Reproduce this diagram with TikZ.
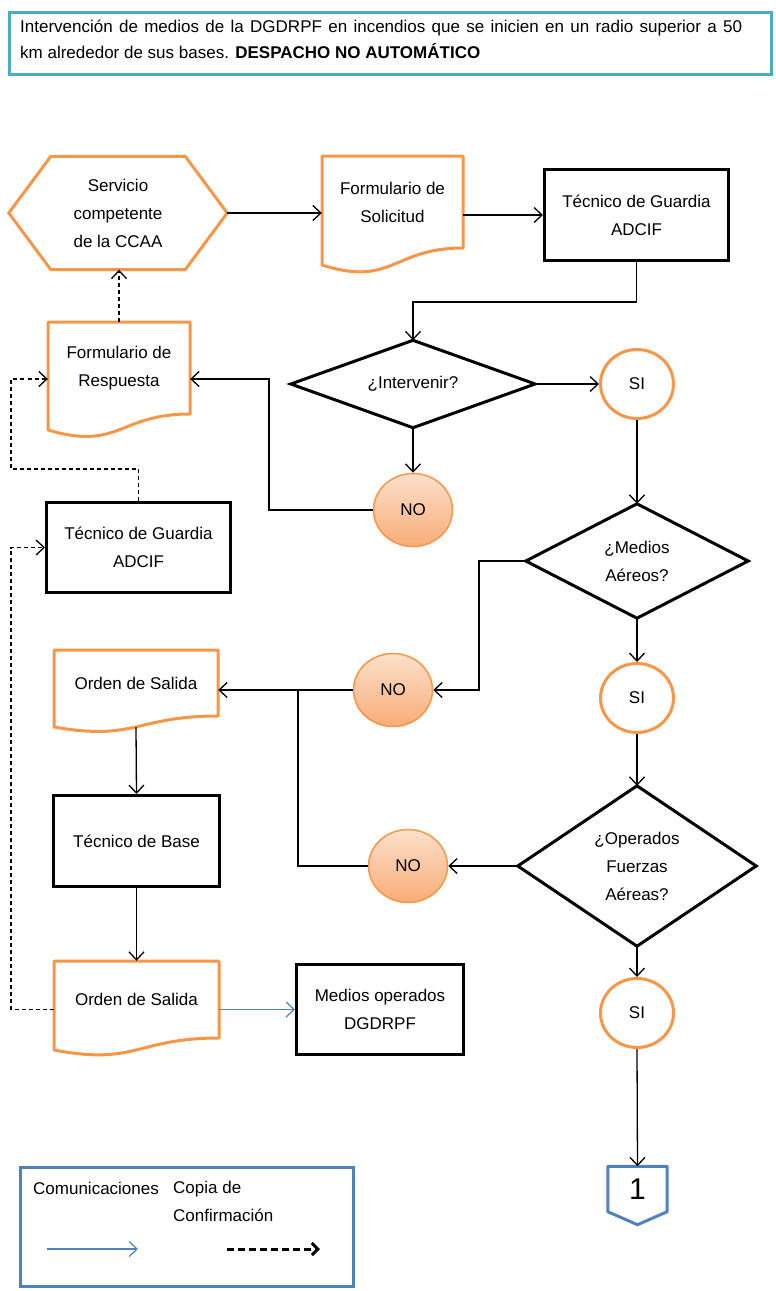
\documentclass[tikz,border=0pt]{standalone}
\usepackage{fontspec}
\setmainfont{Liberation Sans}
\usetikzlibrary{arrows.meta,shapes.geometric,calc}
\definecolor{orng}{HTML}{F79646}
\definecolor{tealc}{HTML}{4BACC6}
\definecolor{bluc}{HTML}{4F81BD}
\definecolor{notop}{RGB}{252,224,203}
\definecolor{nobot}{RGB}{248,172,120}
\newcommand{\docoutline}[5]{%
  \pgfmathsetmacro{\docxm}{(#1+#3)/2}%
  \pgfmathsetmacro{\docyc}{#4+2.31*(#5-#4)}%
  \draw[docline] (#1,#2) -- (#3,#2) -- (#3,#4) .. controls (\docxm,#4) and (\docxm,\docyc) .. (#1,#5) -- cycle;}
\begin{document}
\begin{tikzpicture}[x=1pt,y=-1pt,
  font=\fontsize{17}{28}\selectfont,
  txt/.style={align=center, inner sep=0pt},
  bbox/.style={draw=black, line width=3pt, align=center, inner sep=0pt, line join=miter},
  docline/.style={draw=orng, line width=3pt, line join=round},
  hexline/.style={draw=orng, line width=3pt, line join=miter},
  dialine/.style={draw=black, line width=3pt, line join=miter},
  sicirc/.style={ellipse, draw=orng, line width=3pt, fill=white, minimum width=73pt, minimum height=69pt, inner sep=0pt},
  nocirc/.style={ellipse, draw=orng, line width=1.5pt, top color=notop, bottom color=nobot, minimum width=79pt, minimum height=73pt, inner sep=0pt},
  tip/.style={-{Straight Barb[length=8pt,width=15pt]}},
  conn/.style={line width=1.3pt, tip},
  plain/.style={line width=1.3pt},
  dsh/.style={line width=1.3pt, dash pattern=on 4pt off 3pt},
  blu/.style={draw=bluc, line width=1.2pt, tip}
]
\useasboundingbox (0,0) rectangle (776,1291);

% header
\node[draw=tealc, line width=3pt, anchor=north west, minimum width=762pt, minimum height=62pt, inner sep=0pt] (hdr) at (8,11) {};
\node[anchor=north west, inner sep=0pt, text width=722pt, align=justify, font=\fontsize{17}{26}\selectfont] (hdrtxt) at (20,20)
  {Intervención de medios de la DGDRPF en incendios que se inicien en un radio superior a 50\linebreak km alrededor de sus bases. \textbf{DESPACHO NO AUTOMÁTICO}};

% hexagon
\node[txt, minimum width=218pt, minimum height=113pt] (hex) at (118,213) {Servicio\\competente\\de la CCAA};
\draw[hexline] (hex.west) -- ([xshift=42pt]hex.north west) -- ([xshift=-42pt]hex.north east) -- (hex.east)
  -- ([xshift=-42pt]hex.south east) -- ([xshift=42pt]hex.south west) -- cycle;

% documents
\docoutline{322}{156}{463}{248}{265}
\node[txt, minimum width=141pt, minimum height=92pt] (sol) at (392.5,202) {Formulario de\\Solicitud};

\docoutline{48}{322}{190}{414}{430}
\node[txt, minimum width=142pt, minimum height=92pt] (resp) at (119,368) {Formulario de\\Respuesta};

\docoutline{54}{650}{218}{716}{727}
\node[txt, minimum width=164pt, minimum height=66pt] (ods1) at (136,683) {Orden de Salida};

\docoutline{54}{961}{219}{1038}{1050}
\node[txt, minimum width=165pt, minimum height=77pt] (ods2) at (136.5,999.5) {Orden de Salida};

% boxes
\node[bbox, minimum width=184pt, minimum height=91pt] (tdg1) at (636.5,215) {Técnico de Guardia\\ADCIF};
\node[bbox, minimum width=184pt, minimum height=90pt] (tdg2) at (138.5,547.5) {Técnico de Guardia\\ADCIF};
\node[bbox, minimum width=166pt, minimum height=91pt] (tdb) at (136.5,841) {Técnico de Base};
\node[bbox, minimum width=167pt, minimum height=90pt] (medop) at (380,1009.5) {Medios operados\\DGDRPF};

% diamonds
\node[txt, minimum width=244pt, minimum height=87pt] (int) at (413,384) {¿Intervenir?};
\draw[dialine] (int.north) -- (int.east) -- (int.south) -- (int.west) -- cycle;
\node[txt, minimum width=222pt, minimum height=114pt] (med) at (637,561) {¿Medios\\Aéreos?};
\draw[dialine] (med.north) -- (med.east) -- (med.south) -- (med.west) -- cycle;
\node[txt, minimum width=238pt, minimum height=160pt] (ops) at (637,866) {¿Operados\\Fuerzas\\Aéreas?};
\draw[dialine] (ops.north) -- (ops.east) -- (ops.south) -- (ops.west) -- cycle;

% circles
\node[sicirc] (si1) at (637,384) {SI};
\node[sicirc] (si2) at (637,698) {SI};
\node[sicirc] (si3) at (637,1013) {SI};
\node[nocirc] (no1) at (413,510) {NO};
\node[nocirc] (no2) at (393,690) {NO};
\node[nocirc] (no3) at (408,866) {NO};

% off-page connector
\node[txt, minimum width=59pt, minimum height=45pt, font=\fontsize{30}{30}\selectfont] (c1) at (637.5,1189) {1};
\draw[draw=bluc, line width=3pt, line join=round] (c1.north west) -- (c1.north east) -- (c1.south east)
  -- ([yshift=-13pt]c1.south) -- (c1.south west) -- cycle;

% helper coordinates
\coordinate (k1) at (500,302);
\coordinate (k2) at (269,379);
\coordinate (k3) at (11,469);
\coordinate (k4) at (11,547.5);
\coordinate (k5) at (479,690);
\coordinate (k6) at (298,690);

% connectors
\draw[conn] (hex.east) -- (hex.east -| sol.west);
\draw[conn] (tdg1.west -| sol.east) -- (tdg1.west);
\draw[conn] (tdg1.south) |- (k1) -| (int.north);
\draw[conn] (int.east) -- (si1.west);
\draw[conn] (int.south) -- (no1.north);
\draw[conn] (no1.west) -| (k2) -- ([yshift=-11pt]resp.east);
\draw[dsh, tip] (resp.north) -- (resp.north |- hex.south);
\draw[dsh, tip] (tdg2.north) |- (k3) |- ([yshift=-11pt]resp.west);
\draw[conn] (si1.south) -- (med.north);
\draw[conn] (med.west) -| (k5) -- (no2.east);
\draw[conn] (no2.west) -- (no2.west -| ods1.east);
\draw[conn] (med.south) -- (si2.north);
\draw[conn] (si2.south) -- (ops.north);
\draw[conn] (ops.west) -- (no3.east);
\draw[plain] (no3.west) -| (k6);
\draw[conn] (ops.south) -- (si3.north);
\draw[conn] (si3.south) -- (c1.north);
\draw[conn] ([yshift=-11pt]ods1.south) -- (tdb.north);
\draw[conn] (tdb.south) -- (ods2.north);
\draw[blu] (medop.west -| ods2.east) -- (medop.west);
\draw[dsh, tip] ([yshift=-10pt]ods2.west) -| (k4) -- (tdg2.west);

% legend
\node[draw=bluc, line width=3pt, anchor=north west, minimum width=333pt, minimum height=119pt, inner sep=0pt] (leg) at (19,1166) {};
\node[anchor=west, inner sep=0pt] (lc) at (33,1188) {Comunicaciones};
\node[anchor=north west, inner sep=0pt, align=left] (lcc) at (173,1181) {Copia de\\Confirmación};
\coordinate (la1) at (47,1249);
\coordinate (la2) at (138,1249);
\coordinate (lb1) at (227,1249);
\coordinate (lb2) at (320,1249);
\draw[blu] (la1) -- (la2);
\draw[line width=3pt, dash pattern=on 7pt off 4pt, -{Straight Barb[length=6pt,width=12pt]}] (lb1) -- (lb2);
\end{tikzpicture}
\end{document}
